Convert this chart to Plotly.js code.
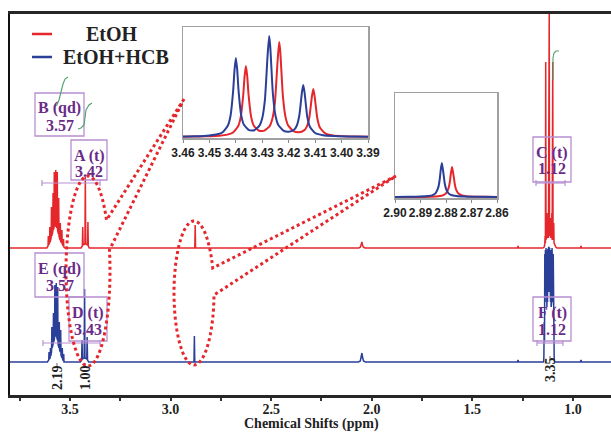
<!DOCTYPE html>
<html><head><meta charset="utf-8">
<script src="https://cdn.plot.ly/plotly-3.0.1.min.js"></script>
<style>html,body{margin:0;padding:0;background:#fff}</style>
</head><body>
<div id="chart" style="width:611px;height:433px"></div>
<script>
// ---------------- DATA ----------------
const seriesNames = ['EtOH', 'EtOH+HCB'];

// main spectrum, EtOH (ppm, intensity above its own baseline)
const redPts = [
 [3.80,0],[3.615,0],
 [3.609,2],[3.6075,12],[3.606,3],
 [3.6015,5],[3.600,21],[3.5985,6],
 [3.5935,10],[3.592,41],[3.5905,12],
 [3.5855,16],[3.584,55],[3.5825,18],
 [3.5795,20],[3.578,76],[3.5765,22],
 [3.572,22],[3.5705,78],[3.569,22],
 [3.5645,20],[3.563,76],[3.5615,18],
 [3.5575,14],[3.556,50],[3.5545,12],
 [3.5495,8],[3.548,25],[3.5465,7],
 [3.5415,5],[3.540,18],[3.5385,4],
 [3.5335,2],[3.532,9],[3.5305,1],
 [3.525,0],
 [3.445,0],[3.4385,2],[3.4365,21],[3.4345,3],[3.4256,4],[3.4236,71],[3.4216,4],[3.4127,3],[3.4107,26],[3.4087,2],[3.404,0],
 [2.8795,0],[2.8776,23],[2.8757,0],
 [2.064,0],[2.056,1],[2.052,3],[2.049,6],[2.046,3],[2.042,1],[2.034,0],
 [1.276,0],[1.273,2],[1.270,0],
 [1.150,0],[1.143,1],[1.140,4],[1.1385,12],[1.137,5],[1.1355,186],[1.134,8],[1.131,14],[1.1295,35],[1.128,10],[1.125,12],[1.1235,30],[1.122,10],[1.118,240],[1.1165,12],[1.113,14],[1.1115,30],[1.110,10],[1.1065,12],[1.105,35],[1.1035,8],[1.1005,186],[1.099,8],[1.097,12],[1.0955,25],[1.094,5],[1.091,3],[1.085,1],[1.080,0],
 [0.963,0],[0.960,2],[0.957,0],[0.80,0]
];

// main spectrum, EtOH+HCB
const bluePts = [
 [3.80,0],[3.612,0],
 [3.6055,2],[3.604,10],[3.6025,3],
 [3.5985,4],[3.597,14],[3.5955,6],
 [3.5915,10],[3.590,35],[3.5885,14],
 [3.5835,18],[3.582,49],[3.5805,20],
 [3.5765,24],[3.575,77],[3.5735,26],
 [3.5695,26],[3.568,79],[3.5665,26],
 [3.5625,22],[3.561,75],[3.5595,18],
 [3.5545,14],[3.553,40],[3.5515,12],
 [3.5475,10],[3.546,32],[3.5445,7],
 [3.5395,4],[3.538,14],[3.5365,3],
 [3.5325,1],[3.531,8],[3.5295,0],
 [3.522,0],
 [3.448,0],[3.442,2],[3.440,22],[3.438,3],[3.4294,4],[3.4274,73],[3.4254,4],[3.4165,3],[3.4145,25],[3.4125,2],[3.407,0],
 [2.8835,0],[2.8816,26],[2.8797,0],
 [2.066,0],[2.057,1],[2.053,4],[2.049,9],[2.045,4],[2.041,1],[2.032,0],
 [1.276,0],[1.273,2],[1.270,0],
 [1.146,0],[1.1445,6],[1.143,40],[1.1415,20],[1.140,108],[1.1385,60],[1.137,112],[1.1355,70],[1.134,114],[1.1325,60],[1.131,110],[1.1295,55],[1.128,112],[1.1265,60],[1.125,113],[1.1235,70],[1.122,114],[1.1205,72],[1.119,115],[1.1175,70],[1.116,114],[1.1145,65],[1.113,113],[1.1115,60],[1.110,112],[1.1085,55],[1.107,110],[1.1055,60],[1.104,114],[1.1025,65],[1.101,112],[1.0995,60],[1.098,108],[1.0965,20],[1.095,40],[1.0935,6],[1.092,0],
 [0.963,0],[0.960,2],[0.957,0],[0.80,0]
];

// inset 1 (3.46 - 3.39 ppm)
const inset1BlueX = [3.460,3.455,3.450,3.447,3.445,3.443,3.442,3.441,3.4405,3.440,3.4395,3.439,3.438,3.437,3.435,3.433,3.431,3.430,3.429,3.428,3.4274,3.427,3.426,3.425,3.424,3.422,3.420,3.418,3.417,3.416,3.415,3.4145,3.414,3.413,3.412,3.410,3.407,3.403,3.398,3.390];
const inset1BlueY = [0.5,0.7,1.5,2.7,4.8,11.5,21.5,46.9,67.4,79,67.6,47.2,22.1,12.5,6.9,6.8,11.6,19,37.3,81.2,101,91.1,43.5,21.2,12.3,6.3,5.2,7.2,11,21.2,44.6,52,44.4,20.7,10.2,4,1.7,0.9,0.5,0.3];
const inset1RedX = [3.460,3.4562,3.4512,3.4462,3.4432,3.4412,3.4392,3.4382,3.4372,3.4367,3.4362,3.4357,3.4352,3.4342,3.4332,3.4312,3.4292,3.4272,3.4262,3.4252,3.4242,3.4236,3.4232,3.4222,3.4212,3.4202,3.4182,3.4162,3.4142,3.4132,3.4122,3.4112,3.4107,3.4102,3.4092,3.4082,3.4062,3.4032,3.3992,3.3942,3.390];
const inset1RedY = [0.3,0.4,0.7,1.3,2.4,4.3,10.4,19.4,42.3,60.7,71,60.8,42.5,19.9,11.3,6.3,6.4,10.9,17.9,35.1,76.3,95,85.6,40.9,19.9,11.6,5.9,4.8,6.6,10.1,19.5,41,48,40.8,19,9.4,3.6,1.6,0.8,0.4,0.3];

// inset 2 (2.90 - 2.86 ppm)
const inset2BlueX = [2.900,2.895,2.890,2.887,2.885,2.884,2.883,2.8825,2.882,2.8816,2.881,2.8805,2.880,2.879,2.878,2.876,2.873,2.868,2.860];
const inset2BlueY = [0.1,0.15,0.4,0.9,2.2,4.2,9.9,17,28.4,34,23.5,13.7,8.2,3.6,2.0,0.9,0.4,0.15,0.07];
const inset2RedX = [2.900,2.892,2.886,2.883,2.881,2.880,2.879,2.8785,2.878,2.8776,2.877,2.8765,2.876,2.875,2.874,2.872,2.869,2.864,2.860];
const inset2RedY = [0.05,0.12,0.34,0.81,1.95,3.7,8.8,15,25,30,20.8,12,7.2,3.2,1.8,0.76,0.33,0.13,0.07];

// tick labels
const mainTickVals = [3.75,3.5,3.25,3.0,2.75,2.5,2.25,2.0,1.75,1.5,1.25,1.0];
const mainTickText = ['','3.5','','3.0','','2.5','','2.0','','1.5','','1.0'];
const inset1TickVals = [3.46,3.45,3.44,3.43,3.42,3.41,3.40,3.39];
const inset1TickText = ['3.46','3.45','3.44','3.43','3.42','3.41','3.40','3.39'];
const inset2TickVals = [2.90,2.89,2.88,2.87,2.86];
const inset2TickText = ['2.90','2.89','2.88','2.87','2.86'];

// peak labels and integrals
const peakNames = ['B (qd)','A (t)','E (qd)','D (t)','C (t)','F (t)'];
const peakShifts = ['3.57','3.42','3.57','3.43','1.12','1.12'];
const integralValues = ['2.19','1.00','3.35'];
const xTitle = 'Chemical Shifts (ppm)';

// ---------------- LAYOUT / STYLE ----------------
const W = 611, H = 433;
const fx = x => x / W, fy = y => 1 - y / H;
const RED = '#e5262b', BLUE = '#2a3f98', PURPLE = '#6a2c88', LAV = '#b88fd2', GREEN = '#4fa06a';
const SERIF = 'Liberation Serif, Times New Roman, serif';
const SANS = 'Liberation Sans, Arial, sans-serif';
const RED_OFFSET = 114;

const traces = [
  {x: bluePts.map(p=>p[0]), y: bluePts.map(p=>p[1]), xaxis:'x', yaxis:'y', mode:'lines', name:seriesNames[1], line:{color:BLUE, width:1.5}},
  {x: redPts.map(p=>p[0]), y: redPts.map(p=>p[1] + RED_OFFSET), xaxis:'x', yaxis:'y', mode:'lines', name:seriesNames[0], line:{color:RED, width:1.5}},
  {x: inset1RedX, y: inset1RedY, xaxis:'x2', yaxis:'y2', mode:'lines', line:{color:RED, width:2, shape:'spline', smoothing:0.5}},
  {x: inset1BlueX, y: inset1BlueY, xaxis:'x2', yaxis:'y2', mode:'lines', line:{color:BLUE, width:2, shape:'spline', smoothing:0.5}},
  {x: inset2RedX, y: inset2RedY, xaxis:'x3', yaxis:'y3', mode:'lines', line:{color:RED, width:2, shape:'spline', smoothing:0.5}},
  {x: inset2BlueX, y: inset2BlueY, xaxis:'x3', yaxis:'y3', mode:'lines', line:{color:BLUE, width:2, shape:'spline', smoothing:0.5}}
];

const insetAxisX = (dom, rng, tv, tt, anchor) => ({
  domain: dom, range: rng, anchor: anchor, tickvals: tv, ticktext: tt, tickangle: 0,
  showline:true, mirror:true, linecolor:'#a0a0a0', linewidth:1.5,
  ticks:'outside', ticklen:3, tickcolor:'#888', tickwidth:1,
  tickfont:{family:SANS, size:12, color:'#222', weight:700},
  showgrid:false, zeroline:false, fixedrange:true
});
const insetAxisY = (dom, rng, anchor) => ({
  domain: dom, range: rng, anchor: anchor, showticklabels:false, ticks:'',
  showline:true, mirror:true, linecolor:'#a0a0a0', linewidth:1.5,
  showgrid:false, zeroline:false
});

// shapes
const P = pts => 'M' + pts.map(p => fx(p[0]).toFixed(5) + ',' + fy(p[1]).toFixed(5)).join('L');
function ellipseConnector(cx, cy, rx, ry, yTop, yBot, target) {
  const t1 = Math.asin((yTop - cy) / ry);
  const t2 = Math.asin((yBot - cy) / ry) - 2 * Math.PI;
  const pts = [target];
  const n = 80;
  for (let i = 0; i <= n; i++) {
    const t = t1 + (t2 - t1) * i / n;
    pts.push([cx + rx * Math.cos(t), cy + ry * Math.sin(t)]);
  }
  pts.push(target);
  return P(pts);
}

const boxes = [
  [35,84,93,136],[71,107,140,180],[35,84,253,297],[69,107,297,341],[533,571,137,182],[533,571,297,341]
];
const shapes = [];
const annotations = [];
boxes.forEach((b, i) => {
  shapes.push({type:'rect', xref:'paper', yref:'paper', x0:fx(b[0]), x1:fx(b[1]), y0:fy(b[2]), y1:fy(b[3]),
    line:{color:LAV, width:1.3}, fillcolor:'rgba(0,0,0,0)', layer:'above'});
  const cx = (b[0] + b[1]) / 2;
  annotations.push({xref:'paper', yref:'paper', x:fx(cx), y:fy(b[2] + 15.5), text:peakNames[i], showarrow:false,
    xanchor:'center', yanchor:'middle', font:{family:SERIF, size:16, color:PURPLE, weight:700}});
  annotations.push({xref:'paper', yref:'paper', x:fx(cx), y:fy(b[2] + 32), text:peakShifts[i], showarrow:false,
    xanchor:'center', yanchor:'middle', font:{family:SERIF, size:16, color:PURPLE, weight:700}});
});

// integration range bars
[[42,100,183],[536,565,183],[43,100,343],[537,563,343]].forEach(b => {
  shapes.push({type:'line', xref:'paper', yref:'paper', x0:fx(b[0]), x1:fx(b[1]), y0:fy(b[2]), y1:fy(b[2]), line:{color:LAV, width:1.2}, layer:'above'});
  [b[0], b[1]].forEach(x => shapes.push({type:'line', xref:'paper', yref:'paper', x0:fx(x), x1:fx(x), y0:fy(b[2]-3), y1:fy(b[2]+3), line:{color:LAV, width:1.2}, layer:'above'}));
});

// integral curves
[
  [[68,77],[65,79],[63,84],[61,92],[59,100],[57,105],[54,107]],
  [[92,103],[89,105],[86,110],[85,118],[84,125],[81,128],[78,129]],
  [[559,51],[556,51],[554,53],[553,58],[553,80]]
].forEach(c => shapes.push({type:'path', xref:'paper', yref:'paper', path:P(c), line:{color:GREEN, width:1.1}, layer:'above'}));

// integral ticks + labels
[[57,378,363],[85,378,363],[550,370,356]].forEach((p, i) => {
  shapes.push({type:'line', xref:'paper', yref:'paper', x0:fx(p[0]), x1:fx(p[0]), y0:fy(p[2]), y1:fy(p[2]+4), line:{color:'#666', width:1}, layer:'above'});
  annotations.push({xref:'paper', yref:'paper', x:fx(p[0]), y:fy(p[1]), text:integralValues[i], textangle:-90, showarrow:false,
    xanchor:'center', yanchor:'middle', font:{family:SERIF, size:14, color:'#222', weight:700}});
});

// dotted zoom connectors
shapes.push({type:'path', xref:'paper', yref:'paper', path:ellipseConnector(88, 271, 22, 95, 220, 250, [184, 99]), line:{color:RED, width:3, dash:'dot'}, layer:'above'});
shapes.push({type:'path', xref:'paper', yref:'paper', path:ellipseConnector(194, 293, 20, 72, 268, 295, [396, 176]), line:{color:RED, width:3, dash:'dot'}, layer:'above'});

// legend
shapes.push({type:'line', xref:'paper', yref:'paper', x0:fx(32), x1:fx(52), y0:fy(34), y1:fy(34), line:{color:RED, width:2.5}});
shapes.push({type:'line', xref:'paper', yref:'paper', x0:fx(32), x1:fx(52), y0:fy(57), y1:fy(57), line:{color:BLUE, width:2.5}});
annotations.push({xref:'paper', yref:'paper', x:fx(112), y:fy(34), text:seriesNames[0], showarrow:false, xanchor:'center', yanchor:'middle', font:{family:SERIF, size:20, color:'#222', weight:700}});
annotations.push({xref:'paper', yref:'paper', x:fx(116), y:fy(57), text:seriesNames[1], showarrow:false, xanchor:'center', yanchor:'middle', font:{family:SERIF, size:20, color:'#222', weight:700}});

// axis title
annotations.push({xref:'paper', yref:'paper', x:fx(311), y:fy(424), text:xTitle, showarrow:false, xanchor:'center', yanchor:'middle', font:{family:SERIF, size:14, color:'#222', weight:700}});

const layout = {
  width:W, height:H, margin:{l:0, r:0, t:0, b:0},
  paper_bgcolor:'#fff', plot_bgcolor:'#fff', showlegend:false,
  xaxis:{domain:[fx(10), 1], range:[3.798, 0.811], tickvals:mainTickVals, ticktext:mainTickText, tickangle:0,
    showline:true, mirror:true, linecolor:'#262626', linewidth:3,
    ticks:'outside', ticklen:3, tickwidth:2, tickcolor:'#333', ticklabelstandoff:-4,
    tickfont:{family:SERIF, size:14, color:'#222', weight:700},
    showgrid:false, zeroline:false},
  yaxis:{domain:[fy(395), fy(14)], range:[-33, 348], showline:true, linecolor:'#111', linewidth:2,
    showticklabels:false, ticks:'', showgrid:false, zeroline:false},
  xaxis2: insetAxisX([fx(183), fx(368)], [3.46, 3.39], inset1TickVals, inset1TickText, 'y2'),
  yaxis2: insetAxisY([fy(138), fy(27)], [-1, 110], 'x2'),
  xaxis3: insetAxisX([fx(395), fx(497)], [2.90, 2.86], inset2TickVals, inset2TickText, 'y3'),
  yaxis3: insetAxisY([fy(198), fy(93)], [-1, 104], 'x3'),
  shapes: shapes, annotations: annotations
};

Plotly.newPlot('chart', traces, layout, {staticPlot:true, displayModeBar:false});
</script>
</body></html>
